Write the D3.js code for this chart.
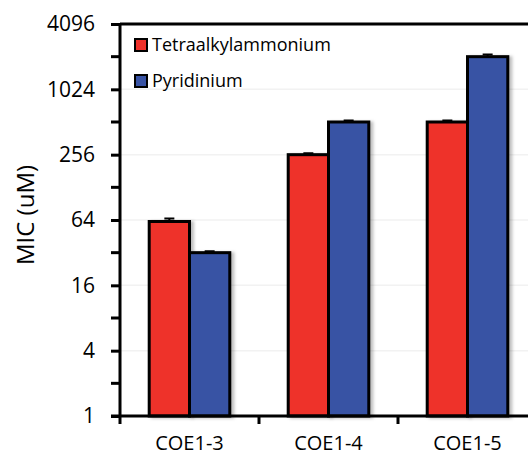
<!DOCTYPE html>
<html>
<head>
<meta charset="utf-8">
<script src="https://cdn.jsdelivr.net/npm/d3@7"></script>
<style>
  body { margin: 0; background: #fff; }
  svg { display: block; font-family: "Open Sans", sans-serif; }
</style>
</head>
<body>
<div id="graph"></div>
<script>
// chart data
var categories = ["COE1-3", "COE1-4", "COE1-5"];
var series = ["Tetraalkylammonium", "Pyridinium"];
var mic_tetra = [62, 256, 512];
var mic_pyrid = [32, 512, 2048];
var err_tetra = [4, 8, 16];
var err_pyrid = [1, 16, 96];
var y_ticks = [1, 4, 16, 64, 256, 1024, 4096];
var y_minor = [2, 8, 32, 128, 512, 2048];
var colours = ["#ee312a", "#3853a4"];

var font = "'Open Sans', sans-serif";
var width = 528, height = 456;
var margin = { left: 120, top: 24, right: -9, bottom: 40 };

var svg = d3.select("#graph")
  .append("svg")
    .attr("width", width)
    .attr("height", height);

var defs = svg.append("defs");
defs.append("filter")
    .attr("id", "shadow")
    .attr("x", "-20%").attr("y", "-20%")
    .attr("width", "150%").attr("height", "150%")
  .append("feDropShadow")
    .attr("dx", 3).attr("dy", 1)
    .attr("stdDeviation", 1.5)
    .attr("flood-color", "#000")
    .attr("flood-opacity", 0.25);

var y = d3.scaleLog().base(2)
    .domain([1, 4096])
    .range([height - margin.bottom, margin.top]);

var x = d3.scaleBand()
    .domain(categories)
    .range([margin.left, width - margin.right]);

var x_inner = d3.scaleBand()
    .domain(series)
    .range([0, x.bandwidth()])
    .paddingInner(0)
    .paddingOuter(0.725);

//----------------------------------------------------------
// faint gridlines
svg.append("g")
  .selectAll("line")
  .data(y_ticks.slice(1))
  .join("line")
    .attr("x1", margin.left)
    .attr("x2", width)
    .attr("y1", function (d) { return y(d); })
    .attr("y2", function (d) { return y(d); })
    .attr("stroke", "#f2f2f2")
    .attr("stroke-width", 1.5);

// bars
var rows = categories.map(function (c, i) {
    return [
        { cat: c, key: series[0], value: mic_tetra[i], err: err_tetra[i], colour: colours[0] },
        { cat: c, key: series[1], value: mic_pyrid[i], err: err_pyrid[i], colour: colours[1] }
    ];
});

var group = svg.append("g")
  .selectAll("g")
  .data(rows)
  .join("g")
    .attr("transform", function (d) {
        return "translate(" + x(d[0].cat) + ",0)";
    });

// error bars (drawn first so bar outline covers the lower half)
group.selectAll("path.err")
  .data(function (d) { return d; })
  .join("path")
    .attr("class", "err")
    .attr("d", function (d) {
        var cx = x_inner(d.key) + x_inner.bandwidth() / 2;
        var top = y(d.value + d.err);
        return "M" + cx + "," + y(d.value) + "V" + top +
               "M" + (cx - 5) + "," + top + "H" + (cx + 5);
    })
    .attr("stroke", "#000")
    .attr("stroke-width", 2)
    .attr("fill", "none");

group.selectAll("rect")
  .data(function (d) { return d; })
  .join("rect")
    .attr("x", function (d) { return x_inner(d.key); })
    .attr("width", x_inner.bandwidth())
    .attr("y", function (d) { return y(d.value); })
    .attr("height", function (d) { return y(1) - y(d.value); })
    .attr("fill", function (d) { return d.colour; })
    .attr("stroke", "#000")
    .attr("stroke-width", 3)
    .attr("filter", "url(#shadow)");

//----------------------------------------------------------
// y axis
var y_axis = svg.append("g")
    .attr("transform", "translate(" + margin.left + ",0)")
    .call(d3.axisLeft(y)
        .tickValues(y_ticks)
        .tickFormat(d3.format("d"))
        .tickSize(9)
        .tickPadding(16));

y_axis.select(".domain").remove();
y_axis.selectAll(".tick line")
    .attr("stroke", "#000")
    .attr("stroke-width", 3);
y_axis.selectAll("text")
    .attr("font-size", 21)
    .attr("fill", "#000")
    .attr("font-family", font);

svg.append("g")
  .selectAll("line")
  .data(y_minor)
  .join("line")
    .attr("x1", margin.left - 9)
    .attr("x2", margin.left)
    .attr("y1", function (d) { return y(d); })
    .attr("y2", function (d) { return y(d); })
    .attr("stroke", "#000")
    .attr("stroke-width", 3);

// frame: left, top and bottom lines
svg.append("line")
    .attr("x1", margin.left).attr("x2", margin.left)
    .attr("y1", y(4096)).attr("y2", y(1))
    .attr("stroke", "#000").attr("stroke-width", 3);
svg.append("line")
    .attr("x1", margin.left).attr("x2", width)
    .attr("y1", y(4096)).attr("y2", y(4096))
    .attr("stroke", "#000").attr("stroke-width", 3);

// x axis
var x_axis = svg.append("g")
    .attr("transform", "translate(0," + y(1) + ")")
    .call(d3.axisBottom(x).tickSize(0).tickPadding(20));

x_axis.select(".domain").remove();
x_axis.selectAll("text")
    .attr("font-size", 20)
    .attr("fill", "#000")
    .attr("font-family", font);

svg.append("line")
    .attr("x1", margin.left - 9).attr("x2", width)
    .attr("y1", y(1)).attr("y2", y(1))
    .attr("stroke", "#000").attr("stroke-width", 3);

svg.append("g")
  .selectAll("line")
  .data(categories)
  .join("line")
    .attr("x1", function (d) { return x(d); })
    .attr("x2", function (d) { return x(d); })
    .attr("y1", y(1))
    .attr("y2", y(1) + 8)
    .attr("stroke", "#000")
    .attr("stroke-width", 3);

// y label
svg.append("text")
    .attr("transform", "translate(34,215) rotate(-90)")
    .attr("text-anchor", "middle")
    .attr("font-size", 24)
    .attr("font-family", font)
    .text("MIC (uM)");

//----------------------------------------------------------
// legend
var legend = svg.append("g")
    .attr("transform", "translate(135,39)")
  .selectAll("g")
  .data(series)
  .join("g")
    .attr("transform", function (d, i) {
        return "translate(0," + (i * 36) + ")";
    });

legend.append("rect")
    .attr("width", 12)
    .attr("height", 12)
    .attr("fill", function (d, i) { return colours[i]; })
    .attr("stroke", "#000")
    .attr("stroke-width", 2);

legend.append("text")
    .attr("x", 17)
    .attr("y", 6)
    .attr("dy", "0.35em")
    .attr("font-size", 18)
    .attr("font-family", font)
    .text(function (d) { return d; });
</script>
</body>
</html>
